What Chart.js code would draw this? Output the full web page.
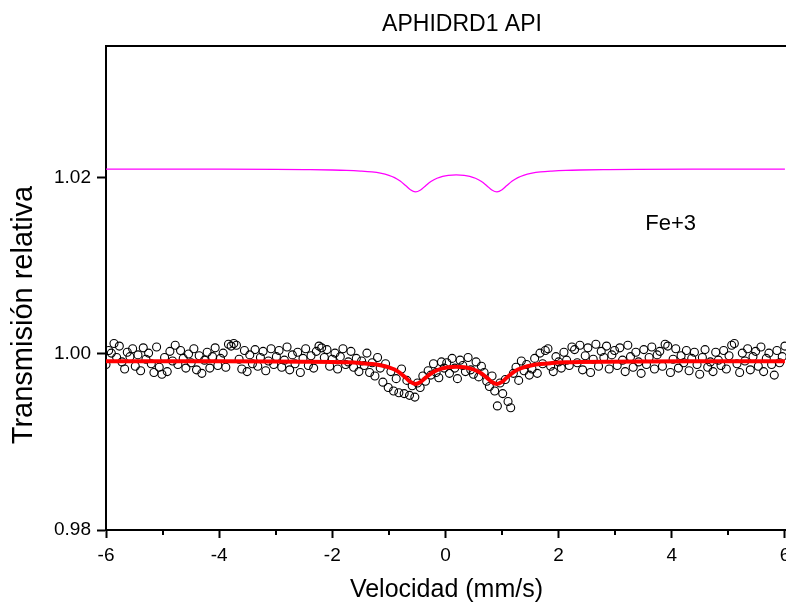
<!DOCTYPE html>
<html>
<head>
<meta charset="utf-8">
<script src="https://cdn.jsdelivr.net/npm/chart.js@4"></script>
<style>
  html, body { margin: 0; padding: 0; background: #fff; overflow: hidden; }
  #caja { width: 792px; height: 603px; }
</style>
</head>
<body>
<div id="caja"><canvas id="grafico"></canvas></div>
<script>
const titulo = 'APHIDRD1 API';
const etiquetaX = 'Velocidad (mm/s)';
const etiquetaY = 'Transmisión relativa';
const etiquetaComponente = 'Fe+3';

const ticksX = [-6, -4, -2, 0, 2, 4, 6];
const ticksMenoresX = [-5, -3, -1, 1, 3, 5];
const ticksY = [0.98, 1.00, 1.02];

// espectro medido (256 canales de -6 a 6 mm/s)
const transmision = [
  0.9988, 1.0004, 1.0001, 1.0012, 0.9996, 1.0009, 0.9991, 0.9983, 1.0002, 0.9997, 1.0006, 0.9986, 0.9999, 0.9981, 1.0007, 0.9994,
  1.0001, 0.9989, 0.9979, 1.0008, 0.9985, 0.9977, 0.9996, 0.9980, 1.0003, 0.9992, 1.0010, 0.9988, 1.0004, 0.9995, 0.9984, 1.0000,
  0.9990, 1.0006, 0.9982, 0.9998, 0.9978, 0.9993, 1.0002, 0.9984, 0.9997, 1.0007, 0.9987, 0.9995, 1.0001, 0.9985, 1.0011, 1.0009,
  1.0012, 1.0010, 0.9994, 0.9983, 1.0004, 0.9980, 0.9999, 0.9989, 1.0005, 0.9986, 0.9996, 1.0003, 0.9981, 0.9992, 1.0006, 0.9988,
  0.9997, 1.0004, 0.9985, 0.9993, 1.0008, 0.9982, 0.9999, 0.9989, 1.0002, 0.9979, 0.9995, 1.0006, 0.9987, 0.9998, 0.9984, 1.0003,
  1.0009, 1.0007, 0.9996, 1.0005, 0.9986, 0.9994, 1.0001, 0.9983, 0.9997, 1.0006, 0.9988, 0.9991, 1.0003, 0.9985, 0.9995, 0.9980,
  0.9992, 0.9987, 1.0001, 0.9979, 0.9990, 0.9975, 0.9996, 0.9984, 0.9968, 0.9989, 0.9962, 0.9980, 0.9958, 0.9972, 0.9956, 0.9983,
  0.9955, 0.9970, 0.9953, 0.9964, 0.9951, 0.9967, 0.9962, 0.9975, 0.9969, 0.9981, 0.9976, 0.9989, 0.9979, 0.9973, 0.9991, 0.9984,
  0.9990, 0.9978, 0.9995, 0.9984, 0.9972, 0.9993, 0.9987, 0.9980, 0.9996, 0.9982, 0.9977, 0.9991, 0.9974, 0.9986, 0.9979, 0.9969,
  0.9963, 0.9975, 0.9958, 0.9941, 0.9967, 0.9955, 0.9971, 0.9946, 0.9939, 0.9978, 0.9985, 0.9970, 0.9992, 0.9981, 0.9988, 0.9976,
  0.9983, 0.9995, 0.9978, 1.0001, 0.9989, 1.0004, 1.0006, 0.9986, 0.9980, 0.9997, 0.9991, 0.9984, 1.0002, 0.9993, 0.9987, 1.0008,
  1.0005, 0.9990, 1.0010, 0.9982, 0.9998, 1.0007, 0.9979, 0.9994, 1.0011, 0.9986, 1.0003, 0.9996, 1.0009, 0.9983, 0.9999, 1.0004,
  0.9987, 1.0007, 0.9993, 0.9980, 1.0010, 0.9997, 0.9985, 1.0002, 0.9991, 0.9978, 1.0005, 0.9988, 0.9996, 1.0008, 0.9983, 0.9999,
  1.0003, 0.9986, 1.0011, 1.0009, 0.9979, 0.9994, 1.0006, 0.9984, 0.9998, 0.9990, 1.0004, 0.9981, 0.9995, 1.0002, 0.9988, 0.9977,
  0.9996, 1.0005, 0.9985, 0.9991, 0.9980, 1.0002, 0.9993, 0.9987, 1.0004, 0.9983, 0.9998, 1.0010, 1.0012, 0.9989, 0.9979, 1.0001,
  0.9992, 1.0006, 0.9982, 0.9997, 1.0003, 0.9986, 1.0008, 0.9980, 0.9995, 1.0001, 0.9988, 0.9976, 1.0004, 0.9990, 0.9997, 1.0009
];

// curva de ajuste y componente Fe+3
const velocidadAjuste = [-6, -5, -4, -3, -2.5, -2, -1.75, -1.5, -1.3, -1.15, -1.0, -0.9, -0.8, -0.7, -0.62, -0.53, -0.44, -0.35, -0.25, -0.15,
  -0.05, 0.05, 0.19, 0.33, 0.43, 0.53, 0.63, 0.73, 0.82, 0.91, 1.0, 1.08, 1.18, 1.28, 1.38, 1.53, 1.68, 1.88, 2.13, 2.38, 2.88, 3.38, 4.38, 5.38, 6];
const ajuste = [0.99919, 0.99918, 0.99918, 0.99916, 0.99913, 0.99909, 0.99905, 0.99897, 0.99887, 0.99873, 0.99849, 0.99823, 0.99783, 0.99729, 0.99684,
  0.99660, 0.99682, 0.99731, 0.99781, 0.99815, 0.99837, 0.99849, 0.99854, 0.99849, 0.99837, 0.99815, 0.99781, 0.99731, 0.99682, 0.99660,
  0.99684, 0.99729, 0.99783, 0.99823, 0.99849, 0.99873, 0.99887, 0.99897, 0.99905, 0.99909, 0.99913, 0.99916, 0.99918, 0.99918, 0.99919];
const componenteFe3 = [1.02101, 1.02100, 1.02100, 1.02098, 1.02095, 1.02091, 1.02087, 1.02079, 1.02069, 1.02055, 1.02031, 1.02005, 1.01965, 1.01911, 1.01866,
  1.01842, 1.01864, 1.01913, 1.01963, 1.01997, 1.02019, 1.02031, 1.02036, 1.02031, 1.02019, 1.01997, 1.01963, 1.01913, 1.01864, 1.01842,
  1.01866, 1.01911, 1.01965, 1.02005, 1.02031, 1.02055, 1.02069, 1.02079, 1.02087, 1.02091, 1.02095, 1.02098, 1.02100, 1.02100, 1.02101];

const fuente = 'Arial, "Liberation Sans", sans-serif';

const puntosMedidos = transmision.map((t, i) => ({ x: -6 + i * 12 / (transmision.length - 1), y: t }));
const puntosAjuste = velocidadAjuste.map((v, i) => ({ x: v, y: ajuste[i] }));
const puntosFe3 = velocidadAjuste.map((v, i) => ({ x: v, y: componenteFe3[i] }));

// marco superior, ticks menores, titulos y texto Fe+3
const extras = {
  id: 'extras',
  afterDraw(chart) {
    const ctx = chart.ctx;
    const a = chart.chartArea;
    const sx = chart.scales.x, sy = chart.scales.y;
    ctx.save();
    ctx.strokeStyle = '#000';
    ctx.lineWidth = 2;
    ctx.beginPath();
    ctx.moveTo(a.left - 1, a.top);
    ctx.lineTo(a.right, a.top);
    ctx.stroke();
    ticksMenoresX.forEach(v => {
      const px = Math.round(sx.getPixelForValue(v));
      ctx.beginPath();
      ctx.moveTo(px, a.bottom);
      ctx.lineTo(px, a.bottom + 5);
      ctx.stroke();
    });
    ctx.fillStyle = '#000';
    ctx.textAlign = 'center';
    ctx.textBaseline = 'middle';
    ctx.font = '22px ' + fuente;
    ctx.fillText(etiquetaComponente, sx.getPixelForValue(3.98), sy.getPixelForValue(1.0148));
    ctx.font = '23px ' + fuente;
    ctx.fillText(titulo, 462, 25);
    ctx.translate(24, 315);
    ctx.rotate(-Math.PI / 2);
    ctx.font = '29px ' + fuente;
    ctx.fillText(etiquetaY, 0, 0);
    ctx.restore();
  }
};

new Chart(document.getElementById('grafico'), {
  type: 'scatter',
  data: {
    datasets: [
      {
        label: 'Fe+3',
        data: puntosFe3,
        showLine: true,
        borderColor: '#ff00ff',
        borderWidth: 1.3,
        pointRadius: 0,
        cubicInterpolationMode: 'monotone',
        order: 2
      },
      {
        label: 'ajuste',
        data: puntosAjuste,
        showLine: true,
        borderColor: '#ff0000',
        borderWidth: 4,
        pointRadius: 0,
        cubicInterpolationMode: 'monotone',
        order: 1
      },
      {
        label: 'medido',
        data: puntosMedidos,
        pointRadius: 4,
        pointBorderWidth: 1.1,
        pointBorderColor: '#000',
        pointBackgroundColor: 'rgba(0,0,0,0)',
        order: 3
      }
    ]
  },
  options: {
    responsive: true,
    maintainAspectRatio: false,
    animation: false,
    layout: { padding: { top: 46, left: 0, right: 0, bottom: 0 } },
    plugins: {
      legend: { display: false },
      tooltip: { enabled: false },
      title: { display: false }
    },
    scales: {
      x: {
        type: 'linear',
        min: -6,
        max: 6.035,
        afterBuildTicks: s => { s.ticks = ticksX.map(v => ({ value: v })); },
        afterFit: s => { s.height = 73; s.paddingLeft = 0; s.paddingRight = 0; },
        border: { color: '#000', width: 2 },
        grid: { drawOnChartArea: false, drawTicks: true, tickLength: 8, tickWidth: 2, tickColor: '#000' },
        ticks: {
          color: '#000',
          padding: 6,
          maxRotation: 0,
          font: { family: fuente, size: 19 },
          callback: v => String(v)
        },
        title: {
          display: true,
          text: etiquetaX,
          color: '#000',
          font: { family: fuente, size: 25, lineHeight: 1 },
          padding: { top: 0, bottom: 0 }
        }
      },
      y: {
        type: 'linear',
        min: 0.98,
        max: 1.035,
        afterBuildTicks: s => { s.ticks = ticksY.map(v => ({ value: v })); },
        afterFit: s => { s.width = 106; s.paddingTop = 0; s.paddingBottom = 0; },
        border: { color: '#000', width: 2 },
        grid: { drawOnChartArea: false, drawTicks: true, tickLength: 9, tickWidth: 2, tickColor: '#000' },
        ticks: {
          color: '#000',
          padding: 6,
          font: { family: fuente, size: 19 },
          callback: v => Number(v).toFixed(2)
        }
      }
    }
  },
  plugins: [extras]
});
</script>
</body>
</html>
